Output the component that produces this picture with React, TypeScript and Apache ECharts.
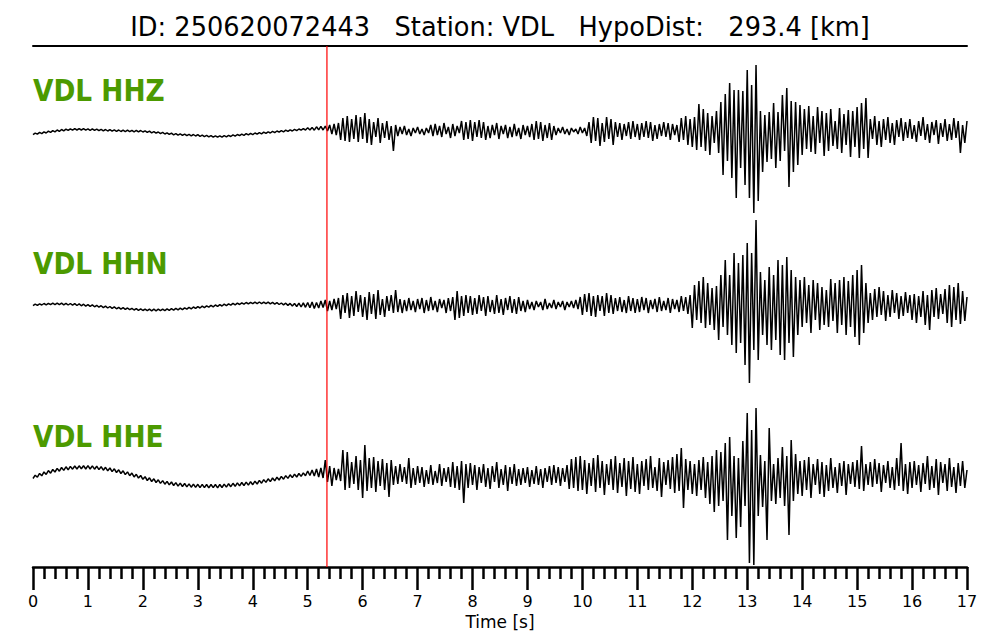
import React, { useEffect, useRef } from "react";
import * as echarts from "echarts";

// ---- data ----
const DT = 0.04; // sample interval [s]
const T_MIN = 0;
const T_MAX = 17;
const P_PICK = 5.35; // red pick line [s]
const TITLE = "ID: 250620072443   Station: VDL   HypoDist:   293.4 [km]";
const CHANNELS = ["VDL HHZ", "VDL HHN", "VDL HHE"];
const X_NAME = "Time [s]";

// amplitudes (arbitrary counts), one row = 1 s
const HHZ = [
  -3.6,-2.1,-3.1,-1.4,-2.6,-0.8,-2.0,-0.2,-1.4,0.4,-0.8,1.0,-0.3,1.5,0.2,1.8,0.6,2.2,0.9,2.4,1.0,2.4,1.0,2.3,0.9,
  2.2,0.7,2.1,0.6,1.9,0.4,1.7,0.2,1.5,0.0,1.3,-0.2,1.1,-0.4,1.0,-0.5,0.9,-0.6,0.8,-0.7,0.7,-0.8,0.6,-0.9,0.5,
  -1.0,0.2,-1.4,-0.2,-1.8,-0.6,-2.2,-1.0,-2.6,-1.4,-3.0,-1.8,-3.4,-2.2,-3.8,-2.6,-4.2,-2.9,-4.4,-3.1,-4.6,-3.3,-4.8,-3.5,-5.0,
  -3.7,-5.3,-4.1,-5.7,-4.4,-5.9,-4.6,-6.1,-4.8,-6.2,-4.8,-6.2,-4.7,-5.9,-4.3,-5.5,-3.9,-5.1,-3.5,-4.7,-3.1,-4.3,-2.7,-3.9,-2.3,
  -3.6,-2.0,-3.2,-1.6,-2.8,-1.2,-2.4,-0.8,-2.0,-0.4,-1.6,0.0,-1.2,0.4,-0.8,0.8,-0.4,1.2,0.0,1.6,0.4,2.0,0.8,2.3,1.0,
  3.2,1.0,3.6,0.8,4.2,1.2,4.6,1.0,5,0,6,-3,7,-4,8,-9,13,-10,15,-11,12,-8,16,-11,14,
  -8,18,-12,12,-14,9,-6,13,-12,8,-7,10,-9,5,-20,6,-5,4,-3,5,-4,2,-5,3,-2,
  4,-3,2,-4,3,-2,6,-5,7,-4,5,-6,8,-3,4,-7,7,-5,5,-2,10,-9,9,-8,11,
  -10,9,-6,11,-7,9,-9,5,-7,6,-4,8,-8,5,-3,6,-7,4,-6,7,-5,3,-8,6,-4,
  5,-6,7,-9,10,-8,9,-10,6,-7,8,-9,5,-4,3,-2,4,-3,2,-4,3,-1,2,-3,4,
  -2,3,-5,9,-12,14,-10,13,-15,8,-11,14,-8,12,-14,9,-6,8,-9,7,-5,9,-8,10,-6,
  7,-9,8,-6,10,-7,9,-10,6,-8,7,-5,9,-6,8,-9,7,-4,6,-11,13,-9,15,-14,12,
  -16,14,-19,27,-16,22,-20,18,-24,15,-12,20,-22,29,-44,37,-30,48,-47,41,-67,41,-37,40,-54,
  61,-67,46,-82,66,-70,20,-41,16,-31,19,-28,28,-37,19,-30,36,-20,43,-56,30,-41,29,-34,26,
  -24,22,-18,25,-21,15,-23,24,-12,20,-25,18,-20,22,-15,10,-18,23,-22,17,-14,21,-26,20,-16,
  24,-27,28,-18,33,-27,12,-8,15,-14,10,-16,12,-9,14,-12,8,-14,11,-6,13,-10,9,-7,12,
  -8,6,-11,10,-5,14,-9,7,-12,9,-4,11,-13,8,-6,12,-10,7,-9,13,-7,10,-22,6,-12,
  10,
];

const HHN = [
  -0.6,0.9,-0.3,1.2,0,1.5,0.2,1.7,0.4,1.8,0.4,1.9,0.3,1.8,0.2,1.7,0,1.5,-0.2,1.3,-0.5,1.1,-0.8,0.8,-1.1,
  0.4,-1.4,0.1,-1.8,-0.3,-2.2,-0.7,-2.6,-1.1,-3.0,-1.5,-3.4,-1.9,-3.8,-2.3,-4.1,-2.7,-4.4,-3.0,-4.7,-3.3,-5.0,-3.6,-5.3,-3.9,
  -5.5,-4.1,-5.7,-4.2,-5.8,-4.2,-5.8,-4.2,-5.7,-4.1,-5.6,-3.9,-5.4,-3.7,-5.2,-3.4,-4.9,-3.1,-4.6,-2.8,-4.2,-2.4,-3.8,-2.0,-3.4,
  -1.6,-3.0,-1.2,-2.6,-0.8,-2.2,-0.4,-1.8,0.0,-1.4,0.4,-1.0,0.8,-0.6,1.2,-0.2,1.6,0.2,1.9,0.5,2.2,0.8,2.5,1.1,2.7,
  1.3,2.9,1.4,3.0,1.4,2.9,1.3,2.8,1.1,2.6,0.8,2.3,0.5,2.0,0.1,1.8,-0.4,1.6,-1.0,1.5,-1.5,1.9,-2.0,2.2,-2.3,
  2.5,-2.8,3,-3.5,2.6,-3,4,-2.5,5,-6,4,-5,6,-4,7,-14,10,-8,12,-13,9,-11,14,-7,10,
  -12,8,-15,13,-9,11,-14,15,-10,6,-12,9,-6,10,-8,15,-7,6,-8,5,-6,7,-5,4,-7,
  6,-4,7,-8,5,-6,8,-5,4,-7,6,-3,5,-8,7,-6,8,-15,14,-13,9,-11,10,-8,9,
  -10,7,-9,10,-6,8,-11,9,-7,5,-9,10,-8,6,-10,7,-5,9,-8,6,-9,8,-6,4,-7,
  5,-4,3,-5,4,-2,3,-5,6,-4,2,-3,5,-4,3,-2,4,-5,3,-2,4,-3,5,-4,8,
  -10,11,-7,12,-11,9,-12,10,-6,9,-11,12,-8,10,-9,7,-6,8,-7,5,-8,9,-6,7,-8,
  6,-7,8,-5,7,-8,5,-4,6,-7,8,-6,4,-5,7,-8,6,-4,5,-7,9,-6,8,-9,10,
  -23,20,-15,24,-18,28,-23,22,-20,17,-25,19,-35,30,-22,45,-30,30,-40,52,-48,42,-38,50,-60,
  62,-78,52,-45,85,-55,33,-30,25,-40,38,-45,30,-35,45,-50,40,-55,48,-38,35,-52,28,-30,25,
  -22,28,-18,20,-28,25,-15,22,-25,18,-20,15,-22,26,-16,22,-28,25,-20,28,-30,24,-22,30,-32,
  35,-40,40,-28,22,-18,12,-15,16,-12,18,-10,14,-16,10,-12,15,-8,12,-14,9,-11,13,-8,10,
  -15,11,-18,9,-12,14,-20,10,-25,15,-12,17,-14,11,-9,16,-18,20,-22,18,-15,22,-19,14,-16,
  8,
];

const HHE = [
  -2.5,0.8,-1.2,2.6,0.2,4.1,1.6,5.4,2.8,6.5,4.0,7.6,4.8,8.5,5.6,9.2,6.2,9.6,6.8,10.0,7.0,10.2,7.2,10.3,7.0,
  10.3,7.0,10.1,6.8,9.8,6.4,9.3,5.8,8.7,5.2,8.0,4.4,7.2,3.5,6.2,2.5,5.2,1.4,4.1,0.3,2.9,-0.9,1.7,-2.1,0.5,
  -3.3,-0.7,-4.5,-1.8,-5.5,-2.8,-6.5,-3.8,-7.4,-4.6,-8.2,-5.4,-8.9,-6.0,-9.5,-6.6,-10.1,-7.1,-10.5,-7.5,-10.9,-7.9,-11.2,-8.1,-11.4,
  -8.3,-11.6,-8.4,-11.7,-8.5,-11.8,-8.5,-11.7,-8.5,-11.8,-8.5,-11.5,-8.1,-11.1,-7.7,-10.7,-7.3,-10.3,-6.9,-9.9,-6.5,-9.5,-6.1,-9.1,-5.7,
  -8.7,-5.2,-8.0,-4.4,-7.2,-3.6,-6.4,-2.8,-5.6,-2.0,-4.8,-1.2,-4.0,-0.4,-3.2,0.4,-2.4,1.2,-1.6,1.9,-1.0,2.5,-0.4,3.1,0.2,
  5.0,0.5,6.0,0,7,-1,8,-2,16,-6,10,-10,8,-4,7,-5,26,-14,24,-12,14,-8,20,-14,16,
  -22,31,-15,18,-12,19,-16,15,-10,17,-14,13,-21,16,-9,10,-8,12,-6,9,-8,18,-12,8,-9,
  10,-7,9,-11,6,-8,11,-9,5,-7,12,-10,8,-6,9,-11,14,-12,10,-14,15,-27,12,-12,13,
  -9,11,-14,9,-7,12,-11,8,-13,10,-6,14,-12,7,-9,11,-15,9,-8,12,-10,7,-9,8,-7,
  9,-11,6,-8,10,-9,7,-12,8,-6,10,-9,11,-7,9,-10,8,-6,11,-13,17,-12,19,-15,20,
  -14,16,-18,13,-10,18,-16,21,-12,15,-19,12,-9,17,-14,20,-17,13,-11,18,-20,15,-13,19,-16,
  12,-18,15,-10,17,-14,20,-12,9,-15,18,-21,14,-9,16,-13,19,-17,22,-15,28,-32,17,-14,15,
  -18,12,-20,16,-14,19,-22,14,-28,20,-36,26,-30,24,-25,33,-64,39,-40,20,-62,18,-51,35,-30,
  63,-87,46,-89,68,-40,21,-31,15,-64,48,-25,12,-28,18,-22,29,-30,20,-59,36,-25,22,-18,15,
  -20,16,-14,19,-22,12,-9,17,-18,14,-21,11,-15,18,-12,9,-17,13,-10,15,-19,12,-8,14,-11,
  16,-13,30,-15,12,-9,14,-11,17,-8,13,-16,11,-7,15,-12,9,-14,18,-10,33,-15,12,-18,14,
  -12,15,-9,11,-16,13,-8,20,-14,10,-12,17,-19,14,-7,12,-15,18,-11,9,-17,13,-10,15,-12,
  6,
];

const TRACES = [HHZ, HHN, HHE];

const toPairs = (vals: number[]) =>
  vals.map((v, i) => [Math.round(i * DT * 100) / 100, v]);

const FONT = "DejaVu Sans";

export default function App() {
  const ref = useRef<HTMLDivElement>(null);

  useEffect(() => {
    if (!ref.current) return;
    const chart = echarts.init(ref.current, undefined, { renderer: "svg" });

    const traceTops = [41, 215, 386];
    const labelY = [91, 264, 437];

    const grids: any[] = traceTops.map((top) => ({
      left: 33,
      right: 33,
      top,
      height: 180,
    }));
    grids.push({ left: 33, right: 33, top: 46, height: 521 });

    const xAxes: any[] = traceTops.map((_, i) => ({
      gridIndex: i,
      type: "value",
      min: T_MIN,
      max: T_MAX,
      show: false,
    }));
    xAxes.push({
      gridIndex: 3,
      type: "value",
      min: T_MIN,
      max: T_MAX,
      interval: 1,
      position: "bottom",
      axisLine: { onZero: false, lineStyle: { color: "#000", width: 2.5 } },
      axisTick: { length: 23, lineStyle: { color: "#000", width: 2.5 } },
      minorTick: { show: true, splitNumber: 5, length: 12, lineStyle: { color: "#000", width: 2.5 } },
      splitLine: { show: false },
      axisLabel: { margin: 26, fontSize: 16, color: "#000", fontFamily: FONT },
      name: X_NAME,
      nameLocation: "middle",
      nameGap: 33,
      nameTextStyle: { fontSize: 17, color: "#000", fontFamily: FONT },
    });
    xAxes.push({
      gridIndex: 3,
      type: "value",
      min: T_MIN,
      max: T_MAX,
      position: "top",
      axisLine: { onZero: false, lineStyle: { color: "#000", width: 2 } },
      axisTick: { show: false },
      axisLabel: { show: false },
      splitLine: { show: false },
    });

    const yAxes: any[] = traceTops.map((_, i) => ({
      gridIndex: i,
      type: "value",
      min: -90,
      max: 90,
      show: false,
    }));
    yAxes.push({ gridIndex: 3, type: "value", min: 0, max: 1, show: false });

    const series: any[] = TRACES.map((vals, i) => ({
      type: "line",
      xAxisIndex: i,
      yAxisIndex: i,
      data: toPairs(vals),
      showSymbol: false,
      clip: false,
      lineStyle: { color: "#000", width: 1.5 },
      z: 2,
    }));
    series.push({
      type: "line",
      xAxisIndex: 3,
      yAxisIndex: 3,
      data: [
        [P_PICK, 0],
        [P_PICK, 1],
      ],
      showSymbol: false,
      lineStyle: { color: "#ff0000", width: 1.2 },
      z: 3,
    });

    const graphics: any[] = [
      {
        type: "text",
        x: 500,
        y: 27,
        scaleX: 0.95,
        style: {
          text: TITLE,
          fontSize: 27,
          fontFamily: FONT,
          fill: "#000",
          align: "center",
          verticalAlign: "middle",
        },
      },
      ...CHANNELS.map((name, i) => ({
        type: "text",
        x: 33,
        y: labelY[i],
        scaleX: 0.88,
        style: {
          text: name,
          fontSize: 30,
          fontWeight: "bold",
          fontFamily: FONT,
          fill: "#4c9a00",
          align: "left",
          verticalAlign: "middle",
        },
      })),
    ];

    chart.setOption({
      animation: false,
      backgroundColor: "#fff",
      grid: grids,
      xAxis: xAxes,
      yAxis: yAxes,
      series,
      graphic: graphics,
    });

    return () => chart.dispose();
  }, []);

  return (
    <div
      ref={ref}
      style={{ position: "fixed", left: 0, top: 0, width: 1000, height: 640 }}
    />
  );
}
